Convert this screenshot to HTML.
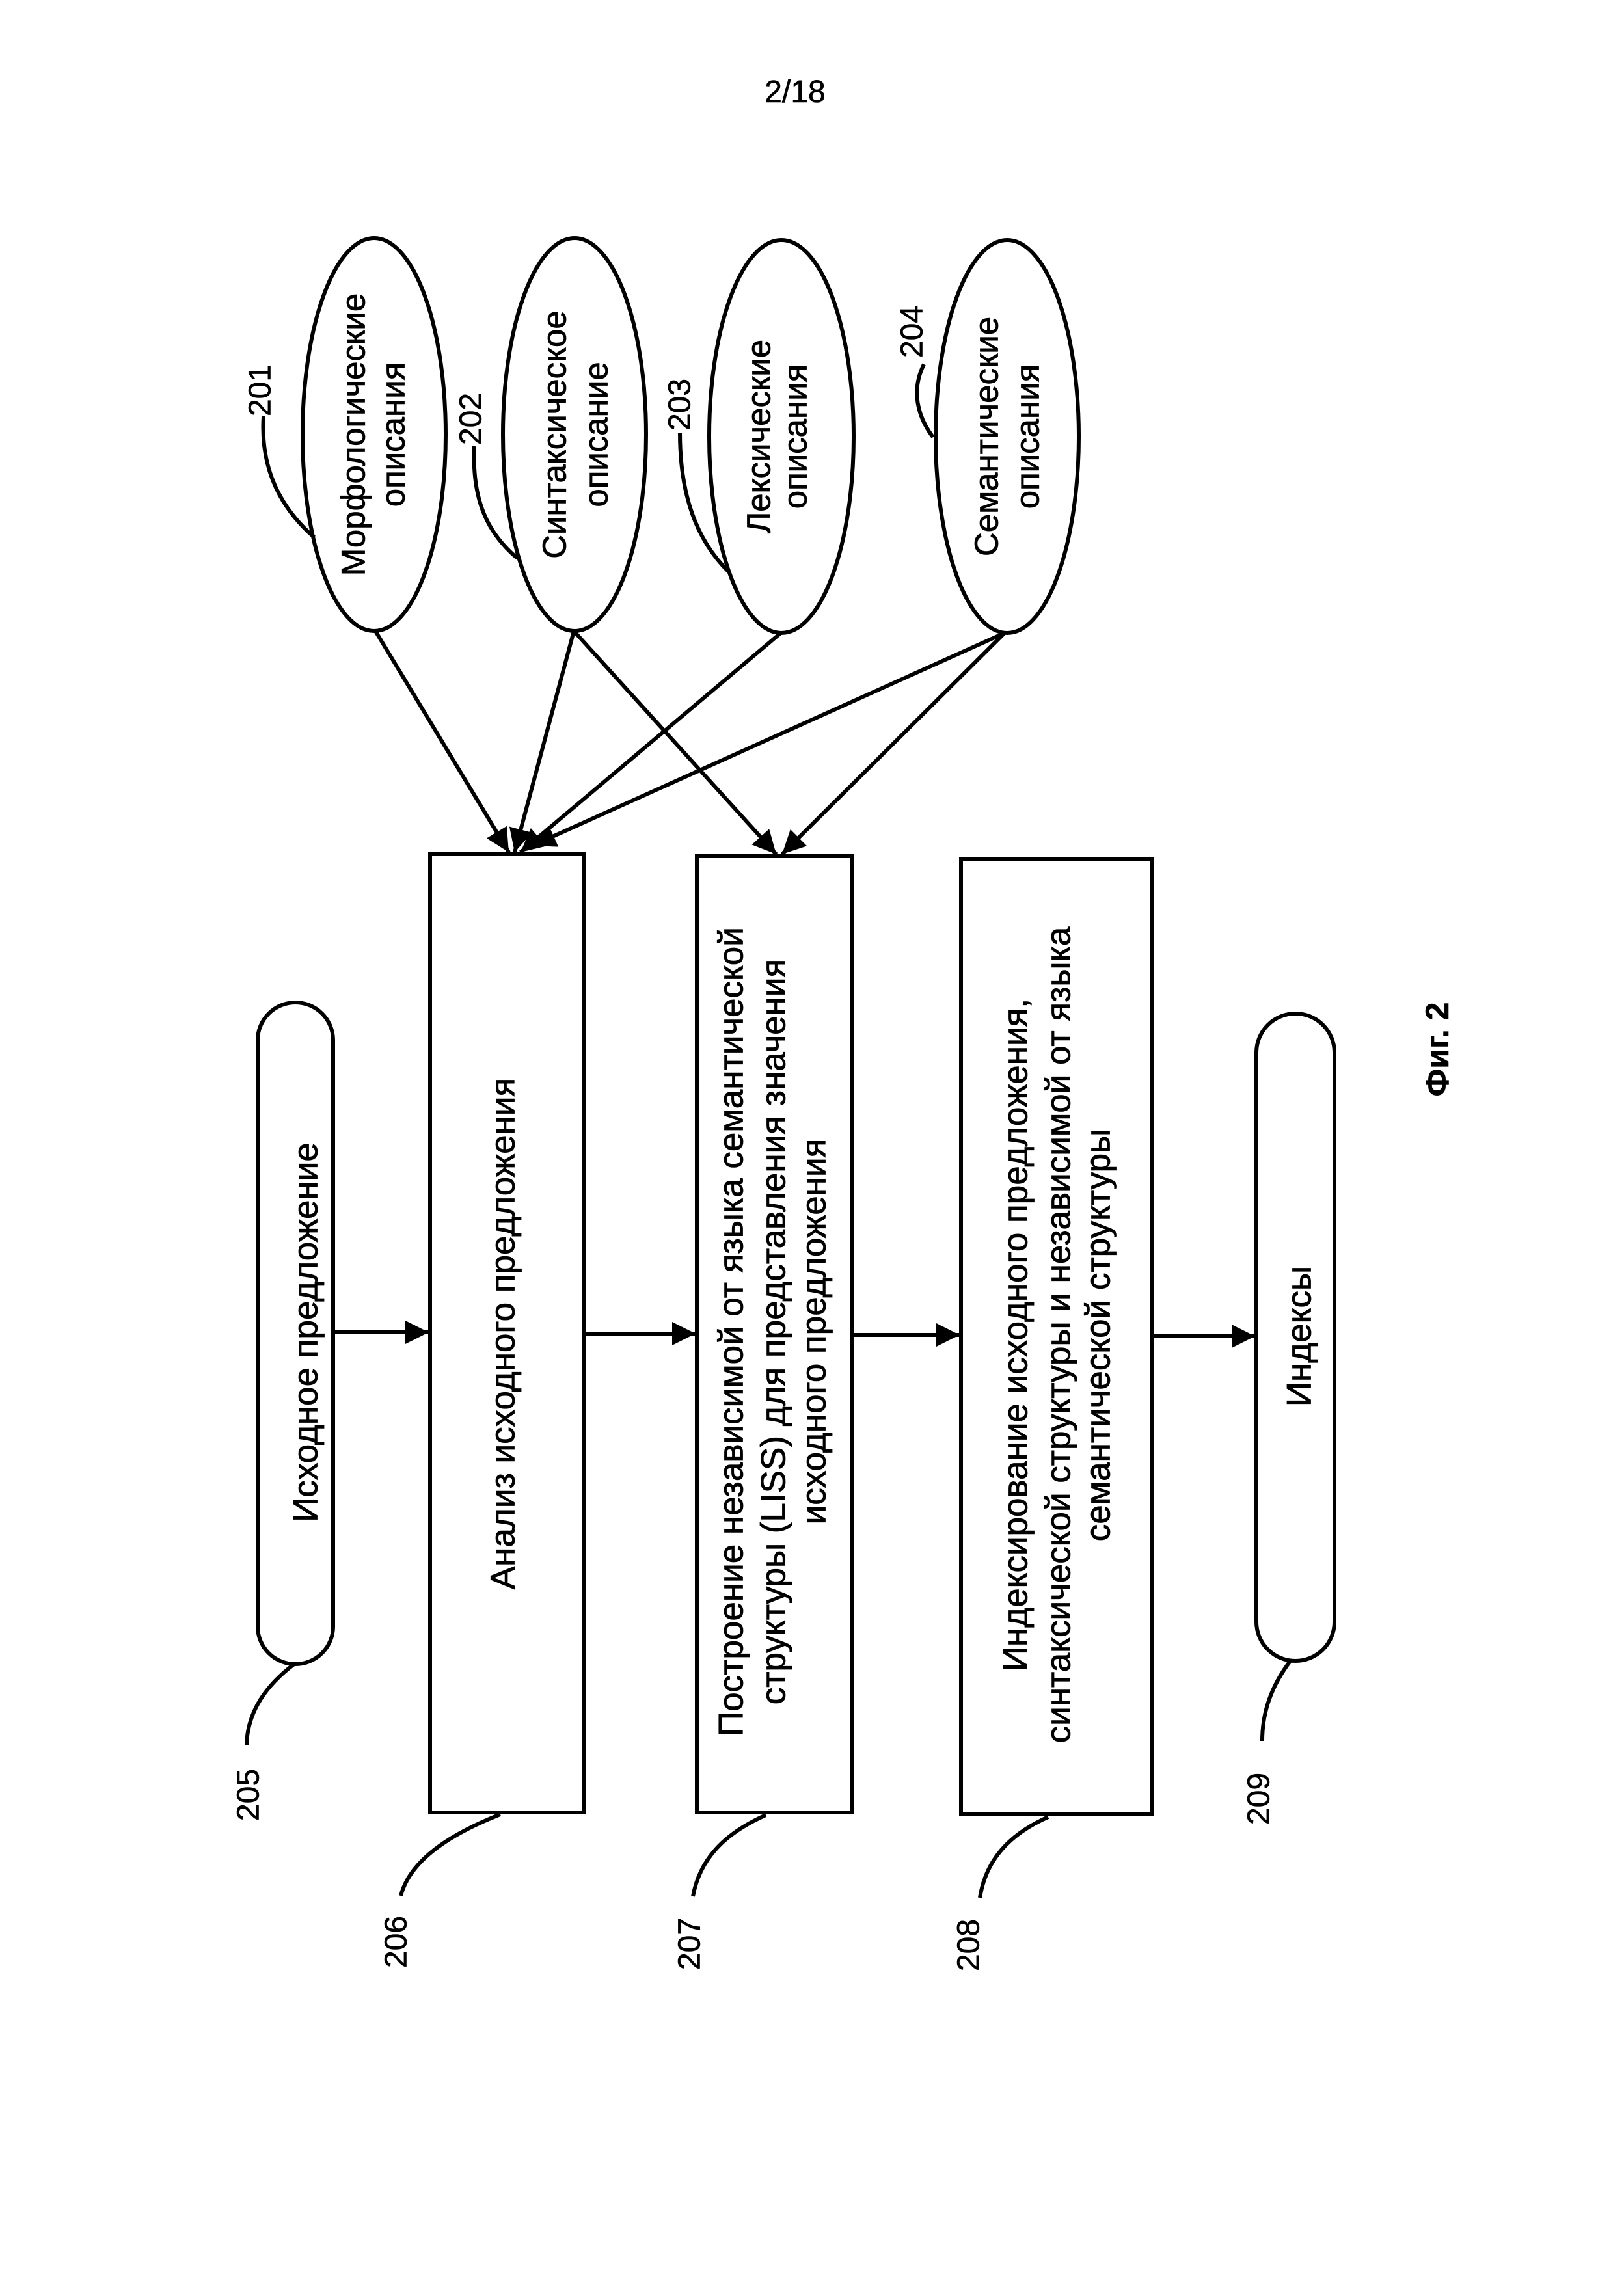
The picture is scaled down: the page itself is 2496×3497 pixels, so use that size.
<!DOCTYPE html>
<html><head><meta charset="utf-8"><style>html,body{margin:0;padding:0;background:#fff}svg{display:block}</style></head>
<body>
<svg width="2496" height="3497" viewBox="0 0 2496 3497" xmlns="http://www.w3.org/2000/svg" font-family="Liberation Sans, Arial, sans-serif">
<defs>
<marker id="a" viewBox="0 0 10 10" refX="10" refY="5" markerWidth="8" markerHeight="6" orient="auto" markerUnits="strokeWidth"><path d="M0,0 L10,5 L0,10 z" fill="#000"/></marker>
</defs>
<rect width="2496" height="3497" fill="#fff"/>
<text x="1222" y="157" font-size="48" text-anchor="middle" stroke="#000" stroke-width="0.6">2/18</text>
<g fill="none" stroke="#000" stroke-width="6">
<ellipse cx="575" cy="668" rx="110" ry="302"/>
<ellipse cx="883" cy="668" rx="110" ry="302"/>
<ellipse cx="1201" cy="671" rx="111" ry="302"/>
<ellipse cx="1548" cy="671" rx="110" ry="302"/>
<path d="M405,640 C400,720 430,780 483,826"/>
<path d="M729,686 C725,770 750,820 795,858"/>
<path d="M1045,665 C1045,760 1070,830 1120,879"/>
<path d="M1420,560 C1400,600 1410,640 1434,672"/>
<rect x="396" y="1541" width="116" height="1017" rx="58"/>
<rect x="661" y="1313" width="237" height="1473"/>
<rect x="1071" y="1316" width="239" height="1470"/>
<rect x="1477" y="1320" width="293" height="1469"/>
<rect x="1931" y="1558" width="120" height="995" rx="60"/>
<path d="M452,2558 C410,2590 380,2630 379,2683"/>
<path d="M769,2789 C690,2820 630,2860 616,2914"/>
<path d="M1177,2790 C1110,2820 1075,2860 1065,2915"/>
<path d="M1611,2793 C1550,2820 1515,2860 1506,2917"/>
<path d="M1984,2552 C1955,2590 1940,2630 1940,2676"/>
</g>
<g stroke="#000" stroke-width="6" fill="none" marker-end="url(#a)">
<line x1="577" y1="970" x2="782" y2="1310"/>
<line x1="882" y1="970" x2="791" y2="1310"/>
<line x1="1200" y1="973" x2="800" y2="1310"/>
<line x1="1544" y1="973" x2="818" y2="1300"/>
<line x1="882" y1="970" x2="1193" y2="1313"/>
<line x1="1544" y1="973" x2="1202" y2="1313"/>
<line x1="512" y1="2048" x2="659" y2="2048"/>
<line x1="898" y1="2050" x2="1069" y2="2050"/>
<line x1="1310" y1="2052" x2="1475" y2="2052"/>
<line x1="1770" y1="2054" x2="1929" y2="2054"/>
</g>
<g font-size="51" text-anchor="middle" dominant-baseline="central" stroke="#000" stroke-width="0.8">
<text transform="translate(543,668) rotate(-90)">Морфологические</text>
<text transform="translate(604,668) rotate(-90)">описания</text>
<text transform="translate(852,668) rotate(-90)">Синтаксическое</text>
<text transform="translate(916,668) rotate(-90)">описание</text>
<text transform="translate(1166,671) rotate(-90)">Лексические</text>
<text transform="translate(1222,671) rotate(-90)">описания</text>
<text transform="translate(1516,671) rotate(-90)">Семантические</text>
<text transform="translate(1579,671) rotate(-90)">описания</text>
</g>
<g font-size="53" text-anchor="middle" dominant-baseline="central" stroke="#000" stroke-width="0.8">
<text transform="translate(470,2048) rotate(-90)">Исходное предложение</text>
<text transform="translate(773,2050) rotate(-90)">Анализ исходного предложения</text>
<text transform="translate(1124,2047) rotate(-90)">Построение независимой от языка семантической</text>
<text transform="translate(1189,2047) rotate(-90)">структуры (LISS) для представления значения</text>
<text transform="translate(1251,2047) rotate(-90)">исходного предложения</text>
<text transform="translate(1561,2052) rotate(-90)">Индексирование исходного предложения,</text>
<text transform="translate(1627,2052) rotate(-90)">синтаксической структуры и независимой от языка</text>
<text transform="translate(1688,2052) rotate(-90)">семантической структуры</text>
<text transform="translate(1997,2054) rotate(-90)">Индексы</text>
</g>
<g font-size="48" text-anchor="middle" dominant-baseline="central" stroke="#000" stroke-width="0.6">
<text transform="translate(400,600) rotate(-90)">201</text>
<text transform="translate(724,644) rotate(-90)">202</text>
<text transform="translate(1045,622) rotate(-90)">203</text>
<text transform="translate(1402,510) rotate(-90)">204</text>
<text transform="translate(382,2759) rotate(-90)">205</text>
<text transform="translate(609,2985) rotate(-90)">206</text>
<text transform="translate(1060,2988) rotate(-90)">207</text>
<text transform="translate(1489,2990) rotate(-90)">208</text>
<text transform="translate(1935,2765) rotate(-90)">209</text>
<text transform="translate(2209,1613) rotate(-90)" font-weight="bold" font-size="50">Фиг. 2</text>
</g>
</svg>
</body></html>
